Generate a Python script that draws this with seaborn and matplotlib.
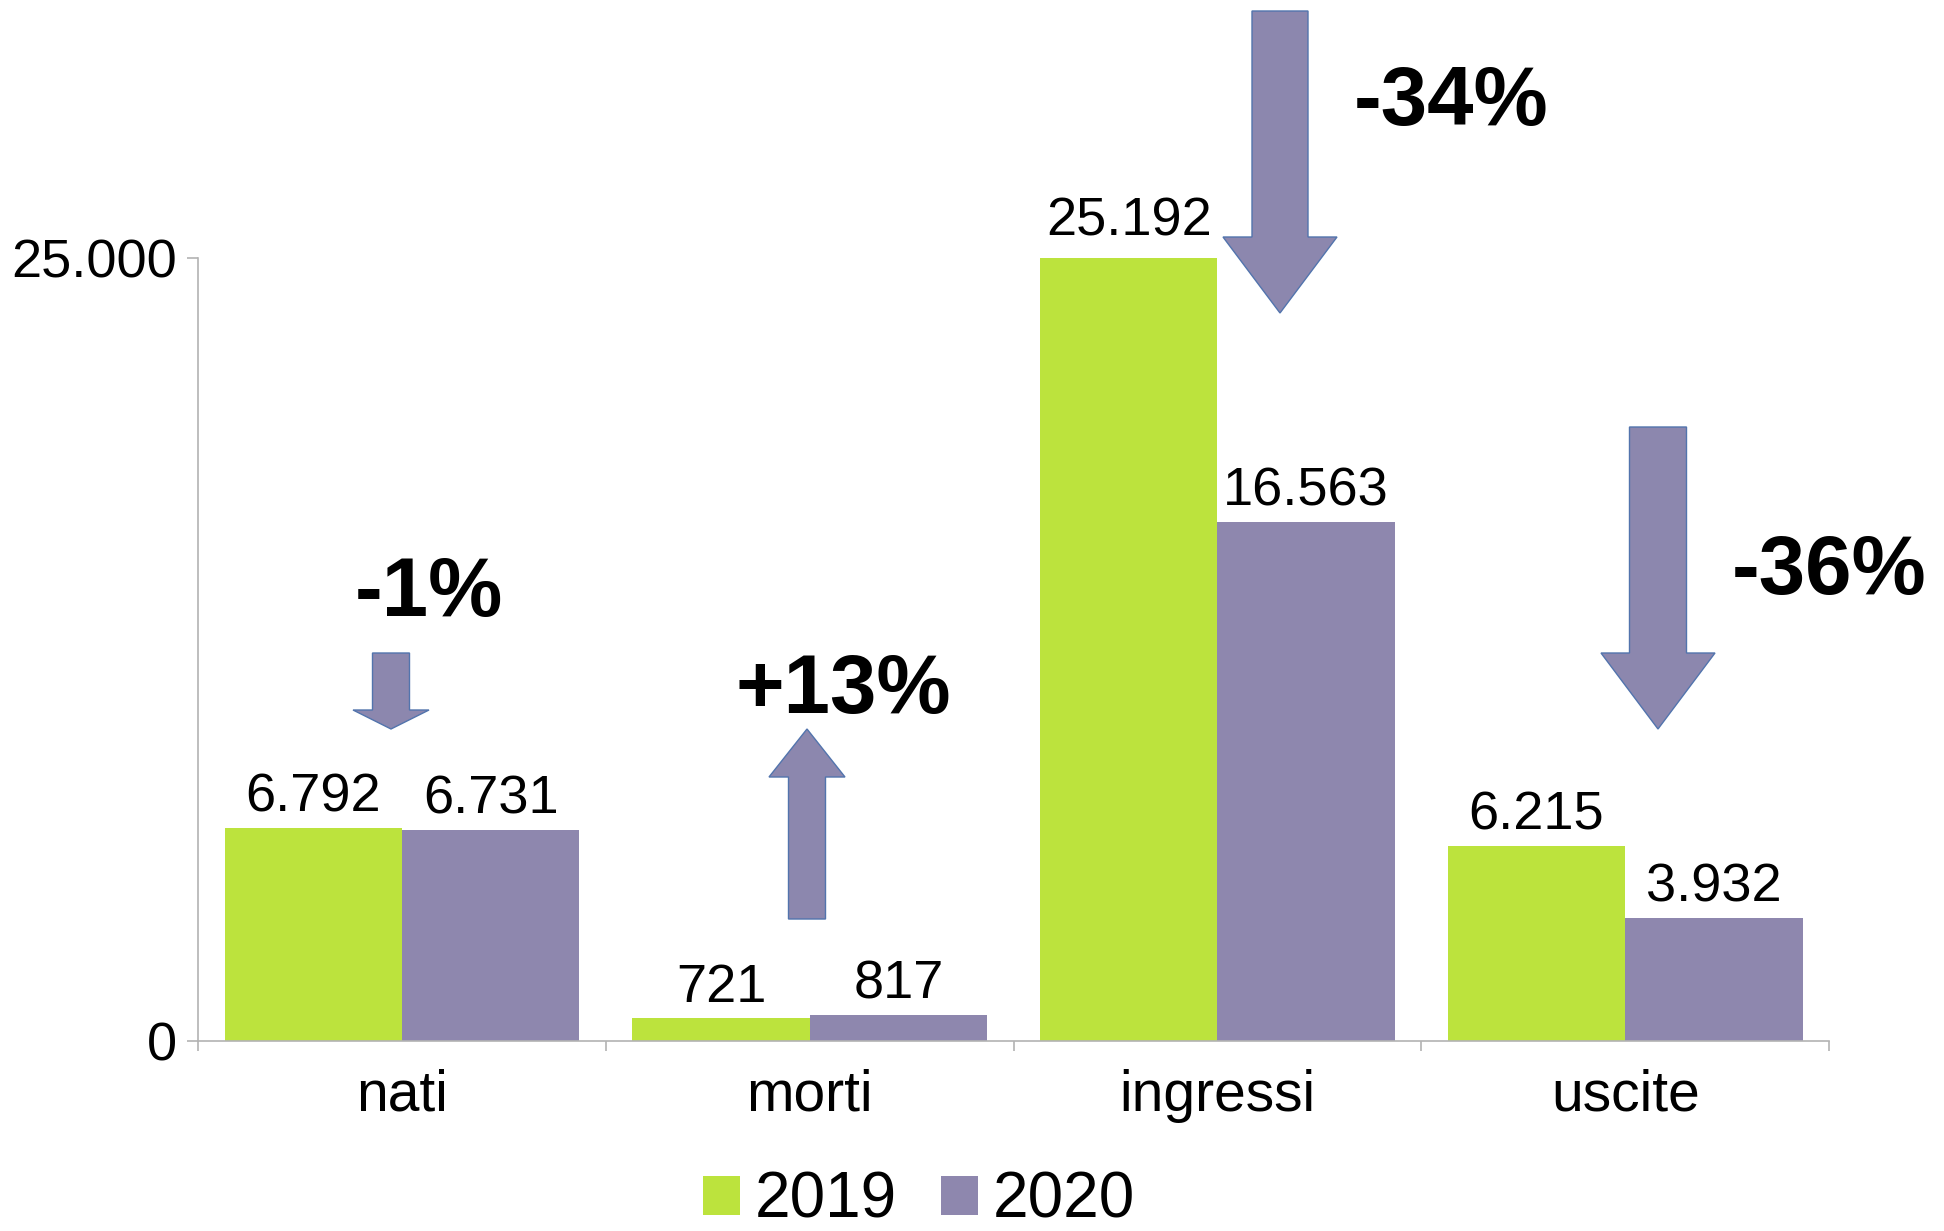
import matplotlib.pyplot as plt
import pandas as pd
import seaborn as sns
from matplotlib.patches import Polygon


categories = ["nati", "morti", "ingressi", "uscite"]
years = ["2019", "2020"]
values_2019 = [6792, 721, 25192, 6215]
values_2020 = [6731, 817, 16563, 3932]
changes = ["-1%", "+13%", "-34%", "-36%"]

colors = {"2019": "#bce33d", "2020": "#8e87ae"}
arrow_fill = "#8c87ae"
arrow_edge = "#5274ad"
axis_gray = "#b3b3b3"

sns.set_theme(style="white")
plt.rcParams["font.family"] = ["Liberation Sans", "DejaVu Sans"]
plt.rcParams["text.color"] = "black"

W, H = 1944, 1231


def fig_xy(x, y):
    return (x / W, 1 - y / H)


def block_arrow(fig, cx, tail, base, tip, shaft_w, head_w):
    pts = [
        (cx - shaft_w / 2, tail),
        (cx + shaft_w / 2, tail),
        (cx + shaft_w / 2, base),
        (cx + head_w / 2, base),
        (cx, tip),
        (cx - head_w / 2, base),
        (cx - shaft_w / 2, base),
    ]
    poly = Polygon([fig_xy(x, y) for x, y in pts], closed=True,
                   transform=fig.transFigure, facecolor=arrow_fill,
                   edgecolor=arrow_edge, linewidth=1.0)
    fig.patches.append(poly)


df = pd.DataFrame({
    "categoria": categories * 2,
    "anno": [years[0]] * len(categories) + [years[1]] * len(categories),
    "valore": values_2019 + values_2020,
})

fig = plt.figure(figsize=(W / 100, H / 100), dpi=100)
ax = fig.add_axes([0.1019, 0.1543, 0.8390, 0.6361])

sns.barplot(data=df, x="categoria", y="valore", hue="anno", palette=colors,
            width=0.87, saturation=1, edgecolor="none", linewidth=0, ax=ax)

for cont in ax.containers:
    anns = ax.bar_label(cont, labels=[f"{v:,.0f}".replace(",", ".") for v in cont.datavalues],
                        padding=4, fontsize=39, color="black")
    for a in anns:
        a.set_annotation_clip(False)

# axis tops out at 25.000 like the original, the tallest bar is cut there
ax.set_xlim(-0.5, 3.5)
ax.set_ylim(0, 25000)
ax.set_yticks([0, 25000])
ax.set_yticklabels(["0", "25.000"])
ax.set_xlabel("")
ax.set_ylabel("")
ax.set_xticks([-0.5, 0.5, 1.5, 2.5, 3.5], minor=True)

for side in ["top", "right"]:
    ax.spines[side].set_visible(False)
for side in ["left", "bottom"]:
    ax.spines[side].set_color(axis_gray)
    ax.spines[side].set_linewidth(1.2)

ax.tick_params(axis="y", which="major", length=8, width=1.2, color=axis_gray,
               labelsize=39, labelcolor="black", pad=7, left=True)
ax.tick_params(axis="x", which="major", length=0, labelsize=41, labelcolor="black", pad=20)
ax.tick_params(axis="x", which="minor", length=7, width=1.2, color=axis_gray, bottom=True)
ax.grid(False)

handles, labels = ax.get_legend_handles_labels()
ax.get_legend().remove()
fig.legend(handles, labels, loc="center", bbox_to_anchor=fig_xy(919, 1201),
           ncol=2, frameon=False, fontsize=46, handlelength=0.58,
           handleheight=0.58, handletextpad=0.22, columnspacing=0.7)

# arrows: centre x, tail y, head base y, tip y, shaft width, head width (pixels)
arrow_specs = [
    (391, 653, 710, 729, 37, 76),
    (807, 919, 777, 729, 37, 76),
    (1280, 11, 237, 313, 56, 114),
    (1658, 427, 653, 729, 57, 114),
]
label_pos = [(429, 594), (843, 691), (1451, 103), (1829, 572)]

for spec in arrow_specs:
    block_arrow(fig, *spec)
for txt, (x, y) in zip(changes, label_pos):
    fig.text(*fig_xy(x, y), txt, fontsize=60, fontweight="bold",
             ha="center", va="center", color="black")

fig.savefig("out.png", dpi=100)
plt.close(fig)
